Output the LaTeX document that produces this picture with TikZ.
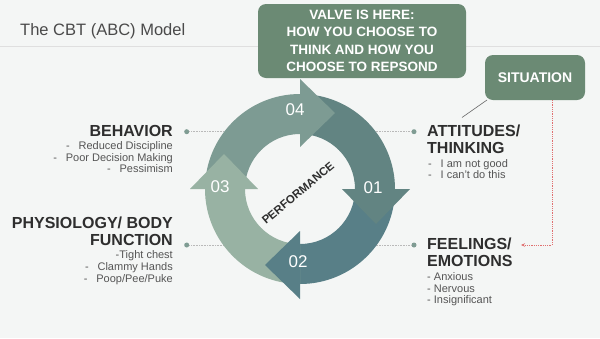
\documentclass[tikz,border=0pt]{standalone}
\usepackage{fontspec}
\setmainfont{Liberation Sans}
\usetikzlibrary{arrows.meta}
\definecolor{bgc}{HTML}{F4F6F5}
\definecolor{boxg}{HTML}{6B8A74}
\definecolor{cA}{HTML}{628482}
\definecolor{cB}{HTML}{587F87}
\definecolor{cC}{HTML}{98B2A3}
\definecolor{cD}{HTML}{7D9B93}
\definecolor{headc}{HTML}{2E2E2E}
\definecolor{itemc}{HTML}{555555}
\definecolor{dotc}{HTML}{7F9C93}
\definecolor{redc}{HTML}{E07070}
\definecolor{titlec}{HTML}{4A4A4A}
\newcommand\dashb{\makebox[12.5pt][l]{-}}
\tikzset{
  heading/.style={font=\fontsize{16}{16}\selectfont\bfseries, text=headc, inner sep=0pt},
  item/.style={font=\fontsize{11}{11}\selectfont, text=itemc, inner sep=0pt},
  greenbox/.style={fill=boxg, rounded corners=8pt, text=white, inner sep=0pt, align=center},
  dotline/.style={draw=gray!55, densely dotted, line width=0.6pt},
  dotend/.style={circle, fill=dotc, inner sep=0pt, minimum size=5pt},
  numtext/.style={text=white, font=\fontsize{17}{17}\selectfont, inner sep=0pt},
}
\begin{document}
\begin{tikzpicture}[x=1pt, y=-1pt]
\fill[bgc] (0,0) rectangle (600,338);
\useasboundingbox (0,0) rectangle (600,338);
% title
\node[anchor=base west, inner sep=0pt, text=titlec, font=\fontsize{16.5}{16.5}\selectfont] (title) at (20,35) {The CBT (ABC) Model};
\coordinate (tl) at (0,46.5);
\coordinate (tr) at (600,46.5);
\draw[gray!25, line width=0.8pt] (tl) -- (tr);

% connectors to ring (drawn beneath)
\node[dotend] (d1) at (186.7,131.7) {};
\node[dotend] (d2) at (186.7,245) {};
\node[dotend] (d3) at (414,131.7) {};
\node[dotend] (d4) at (414,245) {};
\coordinate (e1) at (240,131.7);
\coordinate (e2) at (240,245);
\coordinate (e3) at (360,131.7);
\coordinate (e4) at (360,245);
\draw[dotline] (d1) -- (e1);
\draw[dotline] (d2) -- (e2);
\draw[dotline] (d3) -- (e3);
\draw[dotline] (d4) -- (e4);

% ring
\begin{scope}[shift={(300,189)}]
  % bodies
  \fill[cD] (180:95pt) arc[start angle=180, end angle=90, radius=95pt] -- (90:55pt) arc[start angle=90, end angle=180, radius=55pt] -- cycle;
  \fill[cA] (90:95pt) arc[start angle=90, end angle=0, radius=95pt] -- (0:55pt) arc[start angle=0, end angle=90, radius=55pt] -- cycle;
  \fill[cB] (0:95pt) arc[start angle=0, end angle=-90, radius=95pt] -- (-90:55pt) arc[start angle=-90, end angle=0, radius=55pt] -- cycle;
  \fill[cC] (-90:95pt) arc[start angle=-90, end angle=-180, radius=95pt] -- (-180:55pt) arc[start angle=-180, end angle=-90, radius=55pt] -- cycle;
  % heads
  \fill[cD] (0pt,42pt) -- (0pt,110pt) -- (35pt,76pt) -- cycle;
  \fill[cA] (42pt,0pt) -- (110pt,0pt) -- (76pt,-35pt) -- cycle;
  \fill[cB] (0pt,-42pt) -- (0pt,-110pt) -- (-35pt,-76pt) -- cycle;
  \fill[cC] (-42pt,0pt) -- (-110pt,0pt) -- (-76pt,35pt) -- cycle;
\end{scope}
\node[numtext] (n04) at (295,110) {04};
\node[numtext] (n01) at (373,188) {01};
\node[numtext] (n02) at (298,262) {02};
\node[numtext] (n03) at (220,187) {03};
\node[rotate=40, inner sep=0pt, text=headc, font=\fontsize{11.5}{11.5}\selectfont\bfseries] (perf) at (298,193) {PERFORMANCE};

% valve box
\node[greenbox, minimum width=208pt, minimum height=74pt, font=\fontsize{13.5}{17.4}\selectfont\bfseries] (valve) at (362,41)
  {VALVE IS HERE:\\HOW YOU CHOOSE TO\\THINK AND HOW YOU\\CHOOSE TO REPSOND};

% situation
\coordinate (att) at (462,117.5);
\coordinate (sitsw) at (487,100);
\draw[gray!80!black, line width=0.6pt] (sitsw) -- (att);
\node[greenbox, minimum width=100pt, minimum height=45pt, font=\fontsize{14}{14}\selectfont\bfseries] (sit) at (535,77.5) {SITUATION};
\coordinate (rs) at (552,100);
\coordinate (re) at (521,245);
\draw[redc, densely dotted, line width=0.8pt, -{Stealth[length=4pt,width=3.5pt]}] (rs) |- (re);

% left texts
\node[heading, anchor=base east] (beh) at (173,136.7) {BEHAVIOR};
\node[item, anchor=base east] (beh1) at (173,149) {\dashb Reduced Discipline};
\node[item, anchor=base east] (beh2) at (173,161) {\dashb Poor Decision Making};
\node[item, anchor=base east] (beh3) at (173,172.7) {\dashb Pessimism};

\node[heading, anchor=base east] (phy) at (173,228.3) {PHYSIOLOGY/ BODY};
\node[heading, anchor=base east] (phyb) at (173,245) {FUNCTION};
\node[item, anchor=base east] (phy1) at (173,258) {-Tight chest};
\node[item, anchor=base east] (phy2) at (173,270.7) {\dashb Clammy Hands};
\node[item, anchor=base east] (phy3) at (173,282.3) {\dashb Poop/Pee/Puke};

% right texts
\node[heading, anchor=base west] (attd) at (427,136.7) {ATTITUDES/};
\node[heading, anchor=base west] (attb) at (427,153.3) {THINKING};
\node[item, anchor=base west] (att1) at (428,167.3) {\dashb I am not good};
\node[item, anchor=base west] (att2) at (428,178.3) {\dashb I can’t do this};

\node[heading, anchor=base west] (fee) at (427,249) {FEELINGS/};
\node[heading, anchor=base west] (feeb) at (427,266.7) {EMOTIONS};
\node[item, anchor=base west] (fee1) at (427,280.7) {- Anxious};
\node[item, anchor=base west] (fee2) at (427,292.3) {- Nervous};
\node[item, anchor=base west] (fee3) at (427,303.3) {- Insignificant};
\end{tikzpicture}
\end{document}
